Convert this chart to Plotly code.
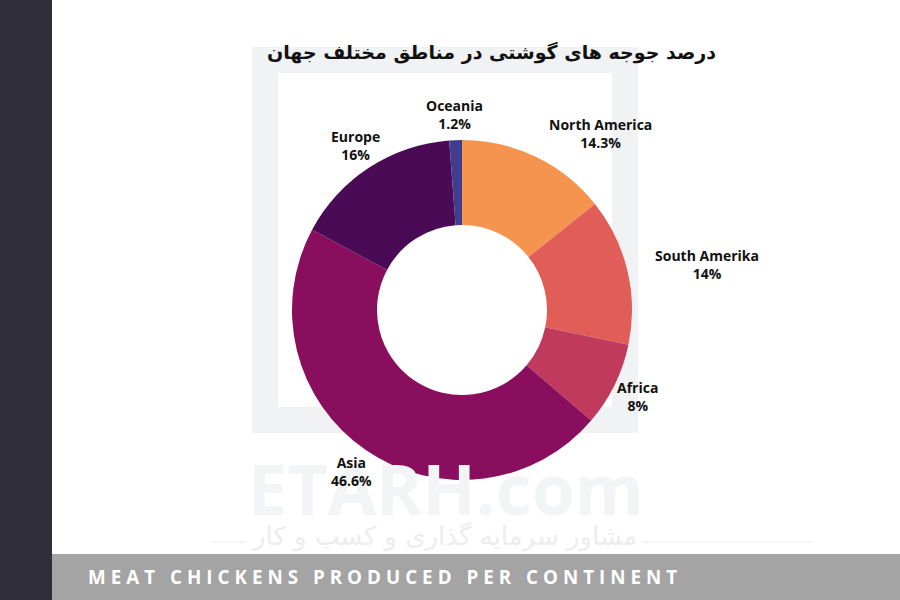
"""Donut chart: meat chickens produced per continent (percent share)."""

import math

import plotly.graph_objects as go


CONTINENTS = ["North America", "South Amerika", "Africa", "Asia", "Europe", "Oceania"]
SHARES = [14.3, 14, 8, 46.6, 16, 1.2]
SLICE_COLORS = ["#f5944f", "#e05e57", "#bf3a5c", "#890e5d", "#4b0a56", "#403c8e"]
LABEL_ANCHORS = ["left", "left", "center", "center", "center", "center"]

TITLE = "درصد جوجه های گوشتی در مناطق مختلف جهان"
FOOTER = "MEAT CHICKENS PRODUCED PER CONTINENT"
WATERMARK = "ETARH.com"
WATERMARK_SUB = "مشاور سرمایه گذاری و کسب و کار"

W, H = 900, 600
CX, CY, R = 462, 310, 170   # donut centre and radius in pixels
LABEL_R = 196


def px_x(x):
    return x / W


def px_y(y):
    return 1 - y / H


def spaced(text, gap):
    """Imita o letter-spacing do rodape inserindo espacos finos."""
    return gap.join(text)


def slice_labels():
    """Rotulos fora do anel, no angulo medio de cada fatia (sentido horario)."""
    total = sum(SHARES)
    notes = []
    cum = 0.0
    for name, value, anchor in zip(CONTINENTS, SHARES, LABEL_ANCHORS):
        mid = 2 * math.pi * (cum + value / 2) / total
        cum += value
        x = CX + LABEL_R * math.sin(mid)
        y = CY - LABEL_R * math.cos(mid)
        notes.append(
            dict(
                text=f"<b>{name}</b><br><b>{value}%</b>",
                xref="paper", yref="paper", x=px_x(x), y=px_y(y),
                xanchor=anchor, yanchor="middle", align="center",
                showarrow=False,
                font=dict(family="Open Sans", size=14, color="#111111"),
            )
        )
    return notes


def main():
    fig = go.Figure()

    fig.add_trace(
        go.Pie(
            labels=CONTINENTS,
            values=SHARES,
            hole=0.5,
            sort=False,
            direction="clockwise",
            rotation=0,
            marker=dict(colors=SLICE_COLORS, line=dict(width=0)),
            textinfo="none",
            domain=dict(x=[px_x(CX - R), px_x(CX + R)], y=[px_y(CY + R), px_y(CY - R)]),
            showlegend=False,
            hoverinfo="label+value",
        )
    )

    shapes = [
        # faint logo frame behind the donut
        dict(type="rect", xref="paper", yref="paper",
             x0=px_x(265), x1=px_x(625), y0=px_y(420), y1=px_y(60),
             line=dict(color="#f1f2f4", width=26), layer="below"),
        # watermark rule lines
        dict(type="line", xref="paper", yref="paper",
             x0=px_x(212), x1=px_x(246), y0=px_y(542), y1=px_y(542),
             line=dict(color="#eeeeee", width=1), layer="below"),
        dict(type="line", xref="paper", yref="paper",
             x0=px_x(642), x1=px_x(812), y0=px_y(542), y1=px_y(542),
             line=dict(color="#eeeeee", width=1), layer="below"),
        # left dark strip
        dict(type="rect", xref="paper", yref="paper",
             x0=0, x1=px_x(52), y0=0, y1=1,
             fillcolor="#302f39", line=dict(width=0)),
        # bottom grey band
        dict(type="rect", xref="paper", yref="paper",
             x0=px_x(52), x1=1, y0=0, y1=px_y(554),
             fillcolor="#a4a4a4", line=dict(width=0)),
    ]

    watermark = [
        dict(text=WATERMARK, xref="paper", yref="paper", x=px_x(446), y=px_y(488),
             showarrow=False, xanchor="center", yanchor="middle",
             font=dict(family="Open Sans", size=70, color="#f3f4f6", weight="bold")),
        dict(text=WATERMARK_SUB, xref="paper", yref="paper", x=px_x(444), y=px_y(536),
             showarrow=False, xanchor="center", yanchor="middle",
             font=dict(family="DejaVu Sans", size=26, color="#ededed")),
    ]

    annotations = watermark + slice_labels() + [
        dict(text=TITLE, xref="paper", yref="paper", x=px_x(492), y=px_y(52),
             showarrow=False, xanchor="center", yanchor="middle",
             font=dict(family="DejaVu Sans", size=19, color="#111111", weight="bold")),
        dict(text=spaced(FOOTER, "\u2009\u200a"), xref="paper", yref="paper",
             x=px_x(86), y=px_y(577),
             showarrow=False, xanchor="left", yanchor="middle",
             font=dict(family="Open Sans", size=18.8, color="#ffffff", weight="bold")),
    ]

    fig.update_layout(
        width=W,
        height=H,
        paper_bgcolor="#ffffff",
        plot_bgcolor="#ffffff",
        margin=dict(l=0, r=0, t=0, b=0),
        shapes=shapes,
        annotations=annotations,
    )

    fig.write_html(
        "out.html",
        config={"displayModeBar": False},
        post_script="document.body.style.margin='0';",
    )


if __name__ == "__main__":
    main()
